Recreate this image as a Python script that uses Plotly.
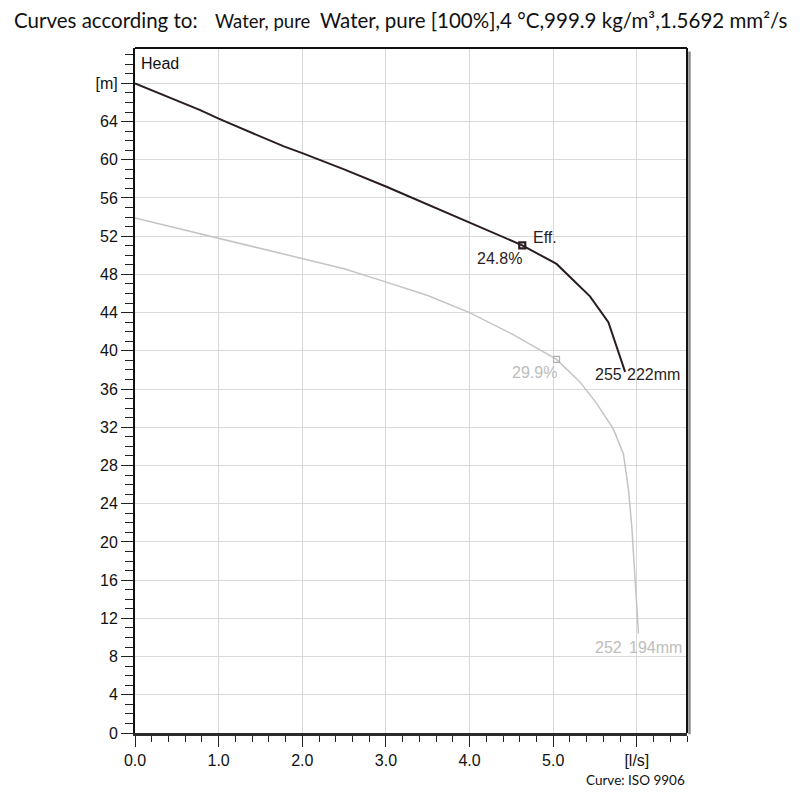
import plotly.graph_objects as go

# ── Curve data ────────────────────────────────────────────────────────────────
flow_255 = [0.0, 0.34, 0.78, 1.0, 1.34, 1.78, 2.0, 2.5, 3.0, 3.5, 4.0, 4.63, 5.04, 5.44, 5.66, 5.86]
head_255 = [68.0, 66.8, 65.2, 64.3, 63.0, 61.4, 60.7, 59.0, 57.2, 55.3, 53.4, 51.05, 49.1, 45.7, 43.0, 37.8]

flow_252 = [0.0, 0.5, 1.0, 1.5, 1.86, 2.5, 2.93, 3.5, 4.0, 4.5, 5.04, 5.32, 5.52, 5.72, 5.84, 5.9, 5.94, 5.99, 6.02]
head_252 = [53.9, 52.85, 51.8, 50.7, 50.0, 48.6, 47.4, 45.8, 44.0, 41.8, 39.1, 36.75, 34.5, 31.8, 29.2, 25.5, 21.6, 15.3, 10.4]

# best efficiency points
eff_flow = [4.63, 5.04]
eff_head = [51.05, 39.1]
eff_value = ["24.8%", "29.9%"]

impeller_outer = ["255", "252"]
impeller_inner = ["222mm", "194mm"]

x_ticks = [0, 1, 2, 3, 4, 5, 6]
x_ticktext = ["0.0", "1.0", "2.0", "3.0", "4.0", "5.0", "[l/s]"]
y_ticks = list(range(0, 69, 4))
y_ticktext = [str(v) for v in y_ticks[:-1]] + ["[m]"]

DARK = "#2a1d22"
LIGHT = "#c4c4c4"
LIGHT_TXT = "#bdbdbd"
GRID = "#d9d9d9"

fig = go.Figure()

fig.add_trace(go.Scatter(
    x=flow_252, y=head_252, mode="lines",
    line=dict(color=LIGHT, width=1.5), hoverinfo="skip",
))
fig.add_trace(go.Scatter(
    x=flow_255, y=head_255, mode="lines",
    line=dict(color=DARK, width=2), hoverinfo="skip",
))
fig.add_trace(go.Scatter(
    x=eff_flow[1:], y=eff_head[1:], mode="markers",
    marker=dict(symbol="square-open", size=6, color="#b0b0b0", line=dict(width=1.2)),
))
fig.add_trace(go.Scatter(
    x=eff_flow[:1], y=eff_head[:1], mode="markers",
    marker=dict(symbol="square-open", size=6, color=DARK, line=dict(width=2.2)),
))

lab_font = dict(family="Liberation Sans, Arial, sans-serif", size=16)
hdr_font = "Lato, sans-serif"

ann = []
# efficiency labels
ann.append(dict(x=eff_flow[0], y=eff_head[0], text="Eff.", showarrow=False,
                xanchor="left", yanchor="middle", xshift=9, yshift=8,
                font=dict(lab_font, color=DARK)))
ann.append(dict(x=eff_flow[0], y=eff_head[0], text=eff_value[0], showarrow=False,
                xanchor="right", yanchor="middle", xshift=2, yshift=-13,
                font=dict(lab_font, color=DARK)))
ann.append(dict(x=eff_flow[1], y=eff_head[1], text=eff_value[1], showarrow=False,
                xanchor="right", yanchor="middle", xshift=2, yshift=-13,
                font=dict(lab_font, color=LIGHT_TXT)))
# impeller diameter labels at curve ends
ann.append(dict(x=flow_255[-1], y=head_255[-1], text=impeller_outer[0], showarrow=False,
                xanchor="right", yanchor="middle", xshift=-1, yshift=-3,
                font=dict(lab_font, color=DARK)))
ann.append(dict(x=flow_255[-1], y=head_255[-1], text=impeller_inner[0], showarrow=False,
                xanchor="left", yanchor="middle", xshift=0, yshift=-3,
                font=dict(lab_font, color=DARK)))
ann.append(dict(x=flow_252[-1], y=head_252[-1], text=impeller_outer[1], showarrow=False,
                xanchor="right", yanchor="middle", xshift=-14, yshift=-14,
                font=dict(lab_font, color=LIGHT_TXT)))
ann.append(dict(x=flow_252[-1], y=head_252[-1], text=impeller_inner[1], showarrow=False,
                xanchor="left", yanchor="middle", xshift=-11, yshift=-14,
                font=dict(lab_font, color=LIGHT_TXT)))
# head label in plot corner
ann.append(dict(x=0.007, y=0.978, xref="paper", yref="paper", text="Head", showarrow=False,
                xanchor="left", yanchor="middle",
                font=dict(family=lab_font["family"], size=16, color="#111111")))
# header line
ann.append(dict(x=-0.223, y=1.041, xref="paper", yref="paper", text="Curves according to:",
                showarrow=False, xanchor="left", yanchor="middle",
                font=dict(family=hdr_font, size=20.5, color="#111111")))
ann.append(dict(x=0.141, y=1.039, xref="paper", yref="paper", text="Water, pure",
                showarrow=False, xanchor="left", yanchor="middle",
                font=dict(family=hdr_font, size=18.5, color="#111111")))
ann.append(dict(x=0.331, y=1.041, xref="paper", yref="paper",
                text="Water, pure [100%],4 °C,999.9 kg/m³,1.5692 mm²/s",
                showarrow=False, xanchor="left", yanchor="middle",
                font=dict(family=hdr_font, size=20.5, color="#111111")))
ann.append(dict(x=1.0, y=-0.069, xref="paper", yref="paper", text="Curve: ISO 9906",
                showarrow=False, xanchor="right", yanchor="middle",
                font=dict(family=hdr_font, size=13.5, color="#111111")))

shapes = [
    dict(type="line", xref="paper", yref="paper", x0=0, x1=1, y0=1, y1=1,
         line=dict(color="#111111", width=2)),
    dict(type="line", xref="paper", yref="paper", x0=1, x1=1, y0=0, y1=1,
         line=dict(color="#111111", width=2)),
    dict(type="line", xref="paper", yref="paper", x0=1.0045, x1=1.0045, y0=-0.002, y1=0.995,
         line=dict(color="#8c8c8c", width=2.5)),
]

# the page body adds an 8px offset, so the figure is kept a little smaller
fig.update_layout(
    width=792, height=792,
    showlegend=False,
    plot_bgcolor="white", paper_bgcolor="white",
    margin=dict(l=127, r=113, t=40, b=67),
    font=dict(family="Liberation Sans, Arial, sans-serif", size=16, color="#111111"),
    annotations=ann,
    shapes=shapes,
    xaxis=dict(
        range=[0, 6.6],
        tickmode="array", tickvals=x_ticks, ticktext=x_ticktext,
        ticks="outside", ticklen=11, tickwidth=1.3, tickcolor="#222222",
        showgrid=True, gridcolor=GRID, gridwidth=1,
        showline=True, linecolor="#2b2b2b", linewidth=3,
        zeroline=False,
        minor=dict(dtick=0.2, tick0=0, ticks="outside", ticklen=6, tickcolor="#222222", showgrid=False),
        tickfont=dict(size=16),
    ),
    yaxis=dict(
        range=[0, 71.7],
        tickmode="array", tickvals=y_ticks, ticktext=y_ticktext,
        ticks="outside", ticklen=12, tickwidth=1.3, tickcolor="#222222",
        showgrid=True, gridcolor=GRID, gridwidth=1,
        showline=True, linecolor="#111111", linewidth=2,
        zeroline=False,
        minor=dict(dtick=1, tick0=0, ticks="outside", ticklen=8, tickcolor="#222222", showgrid=False),
        tickfont=dict(size=16),
    ),
)

fig.write_html("out.html")
